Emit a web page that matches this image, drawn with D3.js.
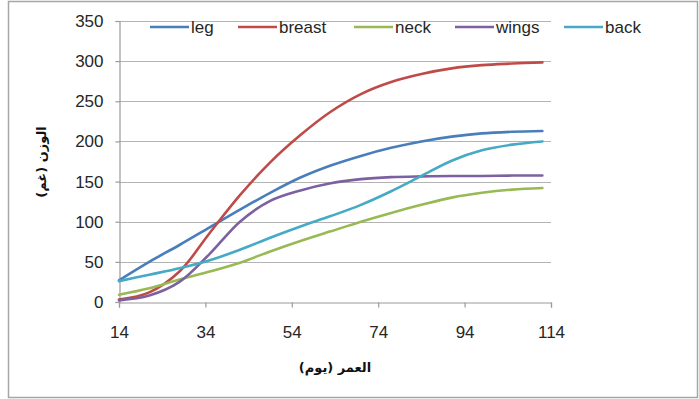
<!DOCTYPE html>
<html>
<head>
<meta charset="utf-8">
<script src="https://cdn.jsdelivr.net/npm/d3@7"></script>
<style>
  html, body { margin: 0; padding: 0; background: #fff; }
  svg { display: block; }
</style>
</head>
<body>
<svg id="chart" width="699" height="399"></svg>
<script>
// Age in days and weight (g) of each cut, weekly
const ages   = [14, 21, 28, 35, 42, 49, 56, 63, 70, 77, 84, 91, 98, 105, 112];
const leg    = [27, 50, 71, 93, 115, 136, 155, 170, 182, 192, 200, 206, 210, 212, 213];
const breast = [3, 12, 38, 86, 133, 174, 208, 237, 259, 274, 284, 291, 295, 297, 298.5];
const neck   = [9, 17, 28, 38, 49, 63, 76, 88, 100, 111, 121, 130, 136, 140, 142];
const wings  = [2, 8, 25, 60, 100, 126, 139, 148, 153, 155.5, 156.5, 157, 157, 157.5, 157.5];
const back   = [26, 34, 42, 52, 65, 80, 94, 107, 121, 138, 157, 176, 189, 196, 200];

const seriesNames  = ["leg", "breast", "neck", "wings", "back"];
const seriesValues = [leg, breast, neck, wings, back];
const seriesColors = ["#4A7EBB", "#BE4B48", "#98B954", "#7D60A0", "#46AAC5"];

const xTicks = [14, 34, 54, 74, 94, 114];
const yTicks = [0, 50, 100, 150, 200, 250, 300, 350];

const xTitle = "العمر (يوم)";
const yTitle = "الوزن (غم)";

const svg = d3.select("#chart");

// outer frame
svg.append("rect")
  .attr("x", 8.5).attr("y", 1.5)
  .attr("width", 689).attr("height", 396)
  .attr("fill", "#fff")
  .attr("stroke", "#a6a6a6").attr("stroke-width", 1.5);

const plot = { left: 119, right: 551, top: 21, bottom: 302 };

const x = d3.scaleLinear().domain([14, 114]).range([plot.left, plot.right]);
const y = d3.scaleLinear().domain([0, 350]).range([plot.bottom, plot.top]);

const font = "'Liberation Sans', Arial, sans-serif";

// horizontal gridlines
svg.append("g")
  .selectAll("line")
  .data(yTicks.filter(d => d > 0))
  .join("line")
  .attr("x1", plot.left).attr("x2", plot.right)
  .attr("y1", d => Math.round(y(d)) + 0.5).attr("y2", d => Math.round(y(d)) + 0.5)
  .attr("stroke", "#b3b3b3").attr("stroke-width", 1.2);

// y axis
const yAxis = svg.append("g")
  .attr("transform", `translate(${plot.left + 0.5},0)`)
  .call(d3.axisLeft(y).tickValues(yTicks).tickSize(4).tickPadding(12));
yAxis.select(".domain").attr("stroke", "#9a9a9a").attr("stroke-width", 1.2);
yAxis.selectAll(".tick line").attr("stroke", "#9a9a9a").attr("stroke-width", 1.2);
yAxis.selectAll("text")
  .attr("font-family", font).attr("font-size", 17).attr("fill", "#262626");

// x axis
const xAxis = svg.append("g")
  .attr("transform", `translate(0,${plot.bottom + 0.5})`)
  .call(d3.axisBottom(x).tickValues(xTicks).tickSize(5).tickPadding(18));
xAxis.select(".domain").attr("stroke", "#9a9a9a").attr("stroke-width", 1.2);
xAxis.selectAll(".tick line").attr("stroke", "#9a9a9a").attr("stroke-width", 1.2);
xAxis.selectAll("text")
  .attr("font-family", font).attr("font-size", 17).attr("fill", "#262626");

// smoothed series lines
const line = d3.line()
  .x((d, i) => x(ages[i]))
  .y(d => y(d))
  .curve(d3.curveCatmullRom.alpha(0.5));

svg.append("g")
  .selectAll("path")
  .data(seriesValues)
  .join("path")
  .attr("d", d => line(d))
  .attr("fill", "none")
  .attr("stroke", (d, i) => seriesColors[i])
  .attr("stroke-width", 2.6)
  .attr("stroke-linecap", "round");

// legend
const legendX = [150, 238, 354, 455, 564];
const legend = svg.append("g")
  .selectAll("g")
  .data(seriesNames)
  .join("g")
  .attr("transform", (d, i) => `translate(${legendX[i]},27)`);
legend.append("line")
  .attr("x1", 0).attr("x2", 39).attr("y1", 0).attr("y2", 0)
  .attr("stroke", (d, i) => seriesColors[i]).attr("stroke-width", 2.6);
legend.append("text")
  .attr("x", 41).attr("y", 6)
  .attr("font-family", font).attr("font-size", 17).attr("fill", "#262626")
  .text(d => d);

// axis titles
svg.append("text")
  .attr("x", 335).attr("y", 372)
  .attr("text-anchor", "middle")
  .attr("font-family", "'DejaVu Sans', sans-serif").attr("font-size", 13)
  .attr("font-weight", "bold").attr("fill", "#111")
  .text(xTitle);

svg.append("text")
  .attr("transform", "translate(46,162) rotate(-90)")
  .attr("text-anchor", "middle")
  .attr("font-family", "'DejaVu Sans', sans-serif").attr("font-size", 13)
  .attr("font-weight", "bold").attr("fill", "#111")
  .text(yTitle);
</script>
</body>
</html>
